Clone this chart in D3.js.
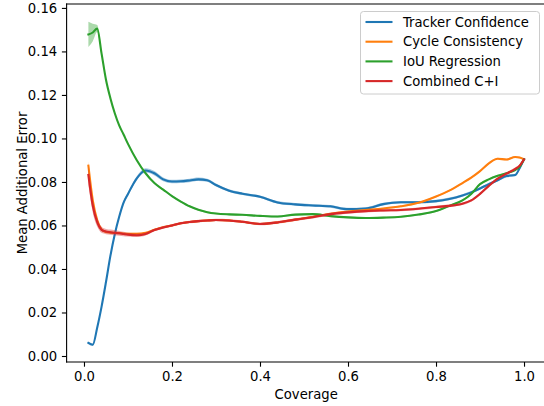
<!DOCTYPE html>
<html>
<head>
<meta charset="utf-8">
<script src="https://cdn.jsdelivr.net/npm/d3@7"></script>
<style>
  html, body { margin: 0; padding: 0; background: #fff; }
  svg { display: block; font-family: "DejaVu Sans", sans-serif; }
</style>
</head>
<body>
<svg id="chart" width="544" height="406"></svg>
<script>
// Coverage grid shared by all methods
const coverage = [0.01, 0.02, 0.03, 0.04, 0.05, 0.06, 0.07, 0.08, 0.09, 0.10,
  0.12, 0.14, 0.16, 0.18, 0.20, 0.22, 0.24, 0.26, 0.28, 0.30,
  0.33, 0.36, 0.40, 0.44, 0.48, 0.52, 0.56, 0.60, 0.64, 0.68,
  0.72, 0.76, 0.80, 0.83, 0.86, 0.88, 0.90, 0.92, 0.94, 0.96,
  0.98, 0.99, 1.00];

const seriesNames = ["Tracker Confidence", "Cycle Consistency", "IoU Regression", "Combined C+I"];
const seriesColors = ["#1f77b4", "#ff7f0e", "#2ca02c", "#d62728"];

// Mean additional error per method
const trackerConfidence = [0.0060, 0.0052, 0.0130, 0.0227, 0.0340, 0.0460, 0.0560, 0.0640, 0.0705, 0.0745,
  0.0817, 0.0853, 0.0840, 0.0812, 0.0802, 0.0803, 0.0807, 0.0812, 0.0808, 0.0786,
  0.0760, 0.0746, 0.0732, 0.0706, 0.0697, 0.0692, 0.0688, 0.0675, 0.0678, 0.0698,
  0.0707, 0.0707, 0.0712, 0.0722, 0.0738, 0.0752, 0.0770, 0.0790, 0.0808, 0.0827,
  0.0832, 0.0863, 0.0904];
const cycleConsistency = [0.0875, 0.0715, 0.0625, 0.0582, 0.0570, 0.0567, 0.0566, 0.0565, 0.0563, 0.0562,
  0.0562, 0.0566, 0.0580, 0.0592, 0.0600, 0.0610, 0.0616, 0.0620, 0.0623, 0.0625,
  0.0623, 0.0617, 0.0607, 0.0614, 0.0627, 0.0640, 0.0654, 0.0664, 0.0671, 0.0678,
  0.0688, 0.0704, 0.0733, 0.0760, 0.0795, 0.0820, 0.0850, 0.0885, 0.0907, 0.0903,
  0.0915, 0.0912, 0.0904];
const iouRegression = [0.1478, 0.1487, 0.1505, 0.1390, 0.1270, 0.1185, 0.1116, 0.1060, 0.1018, 0.0975,
  0.0900, 0.0840, 0.0795, 0.0765, 0.0735, 0.0710, 0.0688, 0.0672, 0.0661, 0.0655,
  0.0651, 0.0649, 0.0644, 0.0641, 0.0650, 0.0652, 0.0643, 0.0637, 0.0634, 0.0636,
  0.0640, 0.0650, 0.0666, 0.0690, 0.0715, 0.0745, 0.0790, 0.0812, 0.0828, 0.0840,
  0.0855, 0.0870, 0.0904];
const combinedCI = [0.0832, 0.0690, 0.0615, 0.0580, 0.0572, 0.0569, 0.0566, 0.0564, 0.0561, 0.0558,
  0.0555, 0.0561, 0.0579, 0.0591, 0.0600, 0.0610, 0.0616, 0.0620, 0.0623, 0.0625,
  0.0623, 0.0617, 0.0607, 0.0614, 0.0627, 0.0638, 0.0652, 0.0660, 0.0666, 0.0669,
  0.0671, 0.0677, 0.0685, 0.0690, 0.0700, 0.0715, 0.0745, 0.0782, 0.0815, 0.0838,
  0.0860, 0.0875, 0.0904];

// Half-width of the shaded spread around each mean
const trackerSpread = [0.0006, 0.0006, 0.0006, 0.0006, 0.0006, 0.0006, 0.0006, 0.0006, 0.0007, 0.0008,
  0.0009, 0.0010, 0.0010, 0.0009, 0.0008, 0.0008, 0.0008, 0.0008, 0.0007, 0.0007,
  0.0006, 0.0006, 0.0006, 0.0006, 0.0006, 0.0006, 0.0006, 0.0006, 0.0006, 0.0006,
  0.0006, 0.0006, 0.0006, 0.0006, 0.0006, 0.0006, 0.0006, 0.0006, 0.0006, 0.0006,
  0.0006, 0.0006, 0.0004];
const cycleSpread = [0.0020, 0.0012, 0.0008, 0.0005, 0.0004, 0.0004, 0.0004, 0.0004, 0.0004, 0.0004,
  0.0004, 0.0004, 0.0004, 0.0004, 0.0004, 0.0004, 0.0004, 0.0004, 0.0004, 0.0004,
  0.0004, 0.0004, 0.0004, 0.0004, 0.0004, 0.0004, 0.0004, 0.0004, 0.0004, 0.0004,
  0.0004, 0.0004, 0.0004, 0.0004, 0.0004, 0.0004, 0.0004, 0.0004, 0.0004, 0.0004,
  0.0004, 0.0004, 0.0003];
const iouSpread = [0.0058, 0.0040, 0.0016, 0.0008, 0.0005, 0.0004, 0.0004, 0.0004, 0.0004, 0.0004,
  0.0004, 0.0004, 0.0004, 0.0004, 0.0004, 0.0004, 0.0004, 0.0004, 0.0004, 0.0004,
  0.0004, 0.0004, 0.0004, 0.0004, 0.0004, 0.0004, 0.0004, 0.0004, 0.0004, 0.0004,
  0.0004, 0.0004, 0.0004, 0.0004, 0.0004, 0.0004, 0.0004, 0.0004, 0.0004, 0.0004,
  0.0004, 0.0004, 0.0003];
const combinedSpread = [0.0045, 0.0030, 0.0020, 0.0014, 0.0012, 0.0012, 0.0012, 0.0011, 0.0010, 0.0009,
  0.0008, 0.0007, 0.0006, 0.0006, 0.0006, 0.0006, 0.0006, 0.0006, 0.0006, 0.0006,
  0.0006, 0.0006, 0.0006, 0.0006, 0.0006, 0.0006, 0.0006, 0.0006, 0.0006, 0.0006,
  0.0006, 0.0006, 0.0006, 0.0006, 0.0006, 0.0006, 0.0006, 0.0006, 0.0006, 0.0006,
  0.0006, 0.0006, 0.0004];

const xTicks = [0.0, 0.2, 0.4, 0.6, 0.8, 1.0];
const yTicks = [0.00, 0.02, 0.04, 0.06, 0.08, 0.10, 0.12, 0.14, 0.16];

const seriesValues = [trackerConfidence, cycleConsistency, iouRegression, combinedCI];
const seriesSpreads = [trackerSpread, cycleSpread, iouSpread, combinedSpread];

(function draw() {
  const svg = d3.select("#chart");
  const fontSize = 13.2;

  // Plot frame (padded limits around the data extent)
  const x = d3.scaleLinear().domain([-0.0395, 1.0495]).range([66.6, 545.8]);
  const y = d3.scaleLinear().domain([-0.00276, 0.1618]).range([362, 4]);
  const frameL = x.range()[0], frameR = x.range()[1];
  const frameB = y.range()[0], frameT = y.range()[1];

  const plot = svg.append("g");
  const curve = d3.curveMonotoneX;

  seriesValues.forEach((vals, s) => {
    const rows = coverage.map((c, i) => ({ c, v: vals[i], h: seriesSpreads[s][i] }));
    plot.append("path")
      .datum(rows)
      .attr("fill", seriesColors[s])
      .attr("fill-opacity", 0.4)
      .attr("d", d3.area().curve(curve)
        .x(d => x(d.c)).y0(d => y(d.v - d.h)).y1(d => y(d.v + d.h)));
    plot.append("path")
      .datum(rows)
      .attr("fill", "none")
      .attr("stroke", seriesColors[s])
      .attr("stroke-width", 2.1)
      .attr("stroke-linejoin", "round")
      .attr("stroke-linecap", "square")
      .attr("d", d3.line().curve(curve).x(d => x(d.c)).y(d => y(d.v)));
  });

  // Axes
  const tickLen = 4.7, tickPad = 4.7;
  const yAxis = svg.append("g")
    .attr("transform", `translate(${frameL},0)`)
    .call(d3.axisLeft(y).tickValues(yTicks).tickFormat(d3.format(".2f"))
      .tickSize(tickLen).tickPadding(tickPad));
  const xAxis = svg.append("g")
    .attr("transform", `translate(0,${frameB})`)
    .call(d3.axisBottom(x).tickValues(xTicks).tickFormat(d3.format(".1f"))
      .tickSize(tickLen).tickPadding(tickPad));
  [xAxis, yAxis].forEach(a => {
    a.select(".domain").remove();
    a.selectAll(".tick line").attr("stroke", "#000").attr("stroke-width", 1.1);
    a.selectAll(".tick text").attr("fill", "#000")
      .style("font-size", fontSize + "px").style("font-family", "DejaVu Sans");
  });

  // Spines
  const spines = svg.append("g").attr("stroke", "#000").attr("stroke-width", 1.1)
    .attr("stroke-linecap", "square");
  spines.append("line").attr("x1", frameL).attr("x2", frameL).attr("y1", frameT).attr("y2", frameB);
  spines.append("line").attr("x1", frameL).attr("x2", frameR).attr("y1", frameB).attr("y2", frameB);
  spines.append("line").attr("x1", frameL).attr("x2", frameR).attr("y1", frameT).attr("y2", frameT);
  spines.append("line").attr("x1", frameR).attr("x2", frameR).attr("y1", frameT).attr("y2", frameB);

  // Axis titles
  svg.append("text")
    .attr("x", (frameL + frameR) / 2).attr("y", 399)
    .attr("text-anchor", "middle")
    .style("font-size", fontSize + "px")
    .text("Coverage");
  svg.append("text")
    .attr("transform", `translate(26.5,${(frameT + frameB) / 2}) rotate(-90)`)
    .attr("text-anchor", "middle")
    .style("font-size", fontSize + "px")
    .text("Mean Additional Error");

  // Legend
  const legend = svg.append("g");
  legend.append("rect")
    .attr("x", 360.5).attr("y", 11.5).attr("width", 179).attr("height", 82.5)
    .attr("rx", 3).attr("fill", "#fff").attr("fill-opacity", 0.8)
    .attr("stroke", "#cccccc").attr("stroke-width", 1);
  seriesNames.forEach((name, i) => {
    const cy = 22 + i * 19.7;
    legend.append("line")
      .attr("x1", 365.5).attr("x2", 392.5).attr("y1", cy).attr("y2", cy)
      .attr("stroke", seriesColors[i]).attr("stroke-width", 2.1);
    legend.append("text")
      .attr("x", 403).attr("y", cy).attr("dy", "0.35em")
      .style("font-size", fontSize + "px")
      .text(name);
  });
})();
</script>
</body>
</html>
